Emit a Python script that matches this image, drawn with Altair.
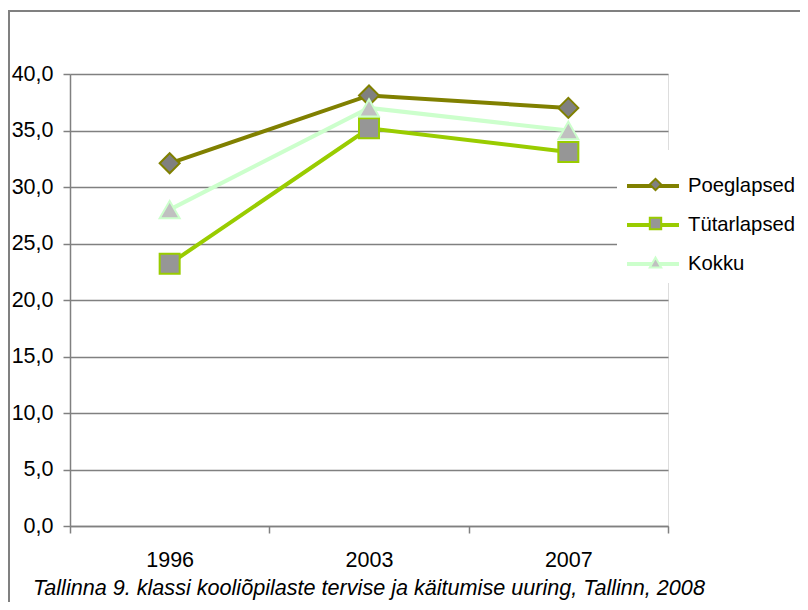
import altair as alt
import pandas as pd

years = ["1996", "2003", "2007"]
series = ["Poeglapsed", "Tütarlapsed", "Kokku"]
poeglapsed = [32.1, 38.1, 37.0]
tutarlapsed = [23.2, 35.2, 33.1]
kokku = [28.0, 37.0, 35.0]
line_colors = ["#808000", "#99cc00", "#ccffcc"]
marker_fills = ["#808080", "#969696", "#c0c0c0"]
marker_shapes = ["diamond", "square", "triangle-up"]
title_text = "Tallinna 9. klassi kooliõpilaste tervise ja käitumise uuring, Tallinn, 2008"

rows = []
for si, (name, vals) in enumerate(zip(series, [poeglapsed, tutarlapsed, kokku])):
    for yi, (yr, v) in enumerate(zip(years, vals)):
        rows.append({"Sari": name, "Sari2": name, "ord": si, "year": yr,
                     "pos": yi + 0.5, "value": v})
df = pd.DataFrame(rows)

FONT = "Liberation Sans"
GRAY = "#808080"
FS = 21.5
W, H = 598, 452
n = len(years)
label_expr = "[" + ",".join("'%s'" % y for y in years) + "][floor(datum.value)]"

yaxis = alt.Axis(values=list(range(0, 41, 5)),
                 labelExpr="replace(format(datum.value,'.1f'),'.',',')",
                 grid=True, gridColor=GRAY, gridWidth=1.5,
                 domainColor=GRAY, domainWidth=1.5, tickColor=GRAY, tickWidth=1.5,
                 tickSize=7, labelPadding=10, labelFontSize=FS, labelColor="black",
                 labelFont=FONT, title=None)
yenc = alt.Y("value:Q", scale=alt.Scale(domain=[0, 40], nice=False), axis=yaxis)
xscale = alt.Scale(domain=[0, n], nice=False, zero=False)

base = alt.Chart(df)

lines = base.mark_line(strokeWidth=4).encode(
    x=alt.X("pos:Q", scale=xscale,
            axis=alt.Axis(values=list(range(n + 1)), labels=False, ticks=True,
                          tickSize=7, tickColor=GRAY, tickWidth=1.5, grid=False,
                          domainColor=GRAY, domainWidth=1.5, title=None,
                          orient="bottom")),
    y=yenc,
    color=alt.Color("Sari:N", scale=alt.Scale(domain=series, range=line_colors),
                    legend=alt.Legend(title=None, orient="none", legendX=547, legendY=76,
                                      symbolType="stroke", symbolSize=2704,
                                      symbolStrokeWidth=4, labelFontSize=20.3,
                                      labelFont=FONT, labelColor="black",
                                      labelOffset=7, rowPadding=0, padding=8,
                                      fillColor="white", zindex=1)),
)

sortf = alt.EncodingSortField(field="ord", op="min")
points = base.mark_point(filled=True, size=400, strokeWidth=2, opacity=1).encode(
    x=alt.X("pos:Q", scale=xscale,
            axis=alt.Axis(values=[i + 0.5 for i in range(n)], labelExpr=label_expr,
                          ticks=False, tickSize=7, domain=False, grid=False,
                          labelPadding=23, labelFontSize=FS, labelFont=FONT,
                          labelColor="black", title=None, orient="bottom")),
    y=yenc,
    shape=alt.Shape("Sari2:N", sort=sortf, scale=alt.Scale(range=marker_shapes),
                    legend=alt.Legend(title=None, orient="none", legendX=575, legendY=100,
                                      symbolSize=130, symbolStrokeWidth=2,
                                      labelFontSize=21, labelExpr="''",
                                      rowPadding=17, padding=0, zindex=2)),
    fill=alt.Fill("Sari2:N", sort=sortf, scale=alt.Scale(range=marker_fills)),
    stroke=alt.Stroke("Sari2:N", sort=sortf, scale=alt.Scale(range=line_colors)),
)

deco = alt.Chart(pd.DataFrame({"t": [title_text]}))
frame_left = deco.mark_rule(stroke=GRAY, strokeWidth=2).encode(
    x=alt.value(-61), y=alt.value(-63), y2=alt.value(H + 80))
frame_top = deco.mark_rule(stroke=GRAY, strokeWidth=2).encode(
    x=alt.value(-62), x2=alt.value(W + 150), y=alt.value(-63))
title = deco.mark_text(fontStyle="italic", fontSize=21.6, font=FONT, color="black",
                       align="center", baseline="middle").encode(
    text="t:N", x=alt.value(W / 2), y=alt.value(H + 63))

chart = alt.layer(frame_left, frame_top, lines, points, title).resolve_scale(
    x="independent"
).properties(
    width=W, height=H,
    autosize=alt.AutoSizeParams(type="none"),
    padding={"left": 62, "top": 66, "right": 132, "bottom": 76},
).configure_view(stroke=None).configure(font=FONT)

chart.save("out.html", embed_options={"renderer": "svg", "actions": False})
